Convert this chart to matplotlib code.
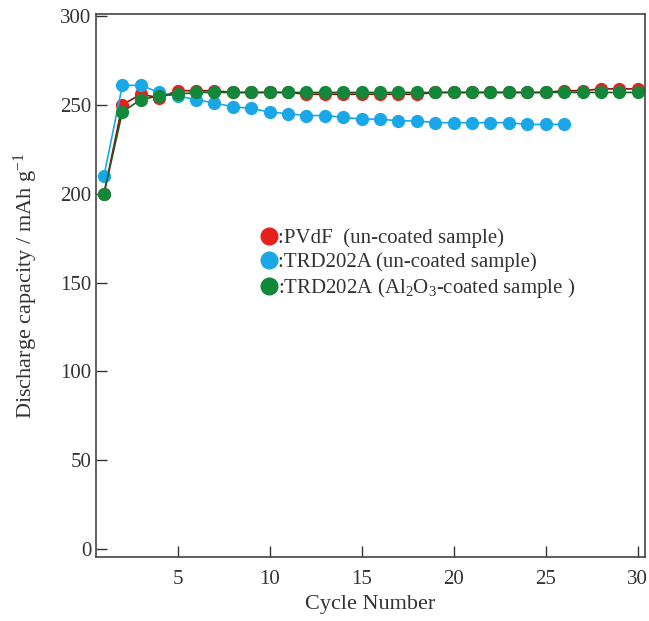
import matplotlib.pyplot as plt
from matplotlib.lines import Line2D

plt.rcParams['font.family'] = ['Liberation Serif', 'Noto Sans CJK JP']
plt.rcParams['mathtext.fontset'] = 'custom'
plt.rcParams['mathtext.rm'] = 'Liberation Serif'
plt.rcParams['mathtext.it'] = 'Liberation Serif:italic'

# data
cycles_pvdf = list(range(1, 31))
pvdf = [200, 250, 256, 254, 258, 258, 258, 257, 257, 257, 257, 256, 256, 256, 256,
        256, 256, 256, 257, 257, 257, 257, 257, 257, 257, 258, 258, 259, 259, 259]

cycles_trd = list(range(1, 27))
trd = [210, 261, 261, 257, 255, 253, 251, 249, 248, 246, 245, 244, 244, 243, 242,
       242, 241, 241, 240, 240, 240, 240, 240, 239, 239, 239]

cycles_al = list(range(1, 31))
trd_al = [200, 246, 253, 255, 256, 257, 257, 257, 257, 257, 257, 257, 257, 257, 257,
          257, 257, 257, 257, 257, 257, 257, 257, 257, 257, 257, 257, 257, 257, 257]

labels = [':PVdF  (un-coated sample)',
          ':TRD202A (un-coated sample)',
          ':TRD202A (Al$_2$O$_3$-coated sample )']
colors = ['#e8201c', '#1aa7e8', '#11883a']
line_colors = ['#8a1010', '#1aa7e8', '#1e5a1e']

fig = plt.figure(figsize=(6.49, 6.21), dpi=100)
ax = fig.add_axes([0.148, 0.103, 0.846, 0.874])

ax.plot(cycles_pvdf, pvdf, '-o', color=line_colors[0], mfc=colors[0], mec=colors[0],
        ms=8.5, lw=1.2)
ax.plot(cycles_trd, trd, '-o', color=line_colors[1], mfc=colors[1], mec=colors[1],
        ms=8.5, lw=1.2)
ax.plot(cycles_al, trd_al, '-o', color=line_colors[2], mfc=colors[2], mec=colors[2],
        ms=8.5, lw=1.2)

ax.set_xlim(0.57, 30.4)
ax.set_ylim(-4.5, 301)
ax.set_xticks([5, 10, 15, 20, 25, 30])
ax.set_yticks([0, 50, 100, 150, 200, 250, 300])
ax.tick_params(direction='in', length=8, width=1, labelsize=15, colors='#333333',
               top=False, right=False)
ax.tick_params(axis='x', pad=9)
for s in ax.spines.values():
    s.set_color('#444444')
    s.set_linewidth(1.2)

ax.set_xlabel('Cycle Number', fontsize=16, color='#333333', labelpad=5)
ax.set_ylabel('Discharge capacity / mAh g$^{-1}$', fontsize=16, color='#333333', labelpad=14)

handles = [Line2D([], [], marker='o', ls='none', color=c, ms=12) for c in colors]
leg = ax.legend(handles, labels, loc='upper left', bbox_to_anchor=(0.27, 0.64),
                frameon=False, fontsize=15, handlelength=0.6, handletextpad=0.1,
                labelspacing=0.2, labelcolor='#333333')

fig.savefig('out.png', dpi=100)
